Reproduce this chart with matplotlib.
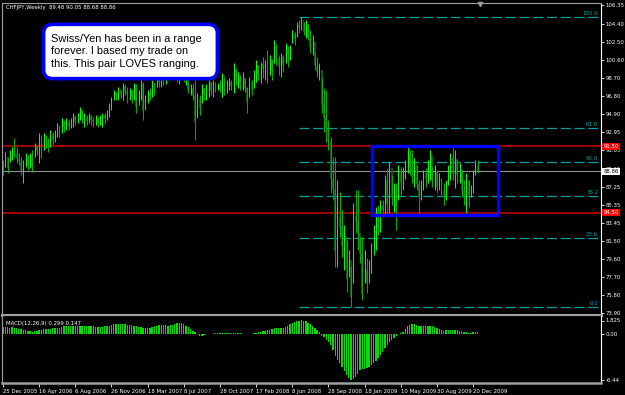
import matplotlib
matplotlib.use("Agg")
import matplotlib.pyplot as plt
from matplotlib.patches import Rectangle, FancyBboxPatch
from matplotlib import font_manager
import numpy as np

# ---------------- data ----------------
symbol_title = "CHFJPY,Weekly  89.48 90.05 88.68 88.86"
macd_title = "MACD(12,26,9) 0.299 0.147"
first_open = 89.3

highs = [90.05, 90.9, 90.4, 91.1, 91.4, 92.4, 91.4, 90.8, 90.4, 90.0,
         90.8, 90.6, 90.8, 91.1, 91.8, 91.6, 92.9, 92.7, 92.9, 92.7,
         92.4, 93.2, 93.0, 93.2, 93.9, 93.7, 94.5, 94.3, 94.5, 94.3,
         94.5, 95.0, 94.8, 95.0, 95.6, 95.3, 95.0, 94.8, 95.0, 94.8,
         94.6, 94.8, 94.6, 94.8, 95.0, 95.0, 95.3, 96.0, 96.7, 97.4,
         97.2, 97.7, 97.4, 98.1, 98.0, 97.7, 97.6, 97.4, 98.1, 98.0,
         97.4, 98.5, 98.3, 96.9, 97.4, 97.6, 98.5, 98.1, 99.2, 99.0,
         98.8, 99.0, 100.5, 100.8, 101.0, 100.6, 101.2, 101.0, 100.2, 100.8,
         101.0, 100.0, 98.1, 98.0, 98.1, 98.5, 97.1, 96.9, 98.0, 97.6,
         98.0, 98.5, 98.3, 98.5, 98.3, 98.1, 98.5, 99.2, 98.7, 98.5,
         98.7, 98.5, 100.2, 99.7, 99.3, 99.0, 99.3, 98.7, 97.7, 98.8,
         98.5, 99.5, 100.6, 100.0, 100.4, 100.9, 100.6, 101.6, 101.1, 100.6,
         102.7, 102.1, 101.1, 101.3, 101.1, 102.4, 101.9, 102.1, 103.7, 103.5,
         104.6, 104.8, 105.1, 104.6, 104.8, 104.3, 103.7, 103.2, 101.3, 100.9,
         100.2, 98.7, 97.6, 97.4, 94.3, 92.5, 90.4, 90.4, 87.9, 86.7,
         84.8, 83.2, 81.6, 80.6, 78.8, 85.5, 86.9, 86.9, 81.9, 81.9,
         80.6, 79.7, 79.5, 81.3, 83.2, 85.1, 85.3, 85.8, 85.8, 88.5,
         89.2, 89.8, 88.5, 87.6, 87.6, 89.5, 89.3, 89.3, 90.0, 91.4,
         91.1, 91.1, 90.3, 89.5, 87.9, 87.9, 89.0, 89.2, 90.0, 91.1,
         89.3, 89.5, 89.0, 88.7, 88.1, 87.6, 87.9, 89.5, 90.8, 91.4,
         91.1, 90.0, 89.7, 89.0, 87.9, 88.7, 87.9, 87.4, 89.0, 90.0,
         90.05]

lows = [88.47, 89.3, 88.7, 89.8, 90.0, 90.4, 89.7, 89.5, 88.5, 87.6,
        89.3, 89.0, 89.2, 88.8, 90.4, 90.6, 89.7, 90.3, 91.1, 91.3,
        90.9, 91.4, 91.6, 91.9, 92.5, 92.5, 92.9, 93.0, 93.2, 93.2,
        93.4, 93.5, 93.7, 93.9, 94.3, 93.9, 93.5, 93.7, 93.9, 93.7,
        93.5, 93.7, 93.5, 93.7, 93.5, 93.9, 94.3, 94.6, 95.3, 96.4,
        96.4, 96.4, 96.6, 96.4, 96.9, 96.0, 96.4, 96.0, 96.4, 95.0,
        95.8, 96.4, 94.3, 95.3, 96.0, 96.4, 96.7, 96.9, 97.7, 97.7,
        97.7, 97.9, 98.0, 99.0, 99.3, 98.8, 99.5, 98.2, 98.0, 98.6,
        98.2, 97.9, 97.1, 96.9, 96.4, 92.2, 94.5, 94.8, 96.0, 96.4,
        96.4, 96.7, 96.9, 96.7, 97.2, 97.4, 97.2, 96.7, 96.9, 97.1,
        97.4, 97.4, 97.1, 97.9, 97.6, 97.4, 97.4, 97.2, 95.0, 96.7,
        96.9, 97.6, 98.3, 98.5, 98.1, 98.7, 98.5, 98.1, 99.0, 98.5,
        100.2, 100.0, 99.0, 98.8, 99.3, 100.2, 99.8, 100.6, 102.4, 102.1,
        103.0, 103.4, 103.7, 103.2, 102.9, 102.7, 101.3, 101.1, 99.5, 98.8,
        98.5, 95.0, 93.0, 91.9, 91.1, 86.6, 85.8, 78.8, 78.8, 81.9,
        79.8, 78.5, 76.2, 77.7, 74.6, 77.1, 82.4, 80.6, 79.2, 75.3,
        77.1, 76.1, 77.1, 78.2, 80.1, 80.6, 82.2, 82.5, 84.0, 84.3,
        84.0, 84.5, 85.3, 84.6, 82.7, 85.8, 86.4, 86.9, 88.0, 88.7,
        88.5, 87.6, 87.2, 86.9, 84.0, 85.8, 86.9, 87.2, 87.6, 87.9,
        87.2, 86.9, 86.6, 86.9, 86.4, 85.3, 85.8, 87.4, 87.9, 87.9,
        87.1, 87.6, 87.6, 86.2, 85.3, 84.5, 85.1, 86.2, 86.6, 88.5,
        88.68]

closes = [89.0, 90.4, 89.2, 90.6, 91.0, 90.8, 90.2, 89.9, 88.9, 89.6,
          90.3, 89.5, 90.5, 89.4, 91.5, 91.0, 92.5, 91.2, 92.3, 92.0,
          91.5, 92.8, 92.2, 92.9, 93.6, 93.0, 94.1, 93.5, 94.0, 93.6,
          94.2, 94.6, 94.2, 94.8, 95.3, 94.4, 94.6, 94.1, 94.7, 94.3,
          94.1, 94.6, 93.9, 94.5, 94.8, 94.4, 95.1, 95.8, 96.3, 97.1,
          96.8, 97.5, 96.9, 97.8, 97.2, 97.0, 97.4, 96.6, 97.9, 95.6,
          97.0, 98.0, 95.2, 96.5, 97.1, 96.8, 98.1, 97.5, 98.8, 98.2,
          98.5, 98.1, 99.8, 100.2, 99.8, 100.3, 100.6, 99.2, 99.5, 100.2,
          98.6, 99.4, 97.4, 97.6, 96.8, 94.0, 96.5, 95.5, 97.6, 96.9,
          97.8, 98.2, 97.3, 98.0, 97.6, 97.9, 97.5, 98.9, 97.4, 98.1,
          98.3, 97.8, 99.4, 98.6, 98.9, 97.9, 98.7, 97.6, 96.1, 98.3,
          97.4, 99.1, 100.0, 99.0, 100.1, 99.6, 100.3, 99.5, 100.7, 99.4,
          102.2, 100.8, 99.8, 100.9, 100.0, 102.0, 101.2, 101.7, 103.3, 102.8,
          104.2, 104.0, 104.8, 103.5, 104.3, 103.0, 101.9, 102.5, 99.9, 99.3,
          99.5, 95.8, 94.5, 93.4, 92.0, 88.0, 87.0, 80.5, 84.0, 83.0,
          81.0, 82.0, 77.5, 79.5, 75.6, 84.2, 83.5, 82.4, 80.2, 76.0,
          78.5, 77.0, 78.6, 80.6, 82.0, 84.3, 83.0, 85.2, 84.7, 87.9,
          85.4, 89.2, 86.2, 86.9, 85.0, 89.0, 87.6, 88.7, 89.5, 90.9,
          89.4, 88.3, 89.6, 87.5, 86.2, 87.3, 88.7, 88.0, 89.6, 90.5,
          87.8, 88.9, 87.2, 88.2, 86.9, 86.4, 87.5, 89.0, 90.4, 88.6,
          90.2, 88.5, 89.0, 86.8, 86.0, 87.9, 86.4, 86.9, 88.6, 89.48,
          88.86]

macd_hist = [0.9, 0.95, 0.9, 0.85, 0.9, 0.8, 0.75, 0.7, 0.6, 0.5,
             0.45, 0.4, 0.35, 0.3, 0.35, 0.4, 0.5, 0.55, 0.6, 0.65,
             0.7, 0.7, 0.75, 0.75, 0.8, 0.85, 0.9, 1.0, 1.05, 1.1,
             1.1, 1.05, 1.0, 1.0, 1.05, 1.1, 1.1, 1.05, 1.0, 1.0,
             1.0, 0.95, 0.9, 0.9, 0.95, 1.0, 1.05, 1.1, 1.2, 1.35,
             1.4, 1.4, 1.35, 1.3, 1.3, 1.25, 1.2, 1.15, 1.1, 1.0,
             0.95, 0.9, 0.8, 0.75, 0.8, 0.85, 0.9, 1.0, 1.1, 1.15,
             1.2, 1.2, 1.15, 1.1, 1.15, 1.25, 1.35, 1.45, 1.5, 1.45,
             1.3, 1.1, 0.9, 0.6, 0.4, 0.2, -0.1, -0.25, -0.25, -0.2,
             -0.1, -0.05, 0.0, 0.05, 0.05, 0.05, 0.1, 0.1, 0.15, 0.15,
             0.1, 0.1, 0.05, 0.05, 0.05, 0.05, 0.0, -0.05, -0.1, -0.1,
             -0.05, 0.05, 0.1, 0.2, 0.3, 0.35, 0.4, 0.5, 0.55, 0.6,
             0.75, 0.8, 0.85, 0.8, 0.8, 0.9, 1.1, 1.3, 1.5, 1.65,
             1.75, 1.8, 1.85, 1.8, 1.7, 1.5, 1.3, 1.1, 0.8, 0.5,
             0.2, -0.3, -0.5, -0.8, -1.1, -1.6, -2.2, -3.0, -3.6, -4.1,
             -4.6, -5.2, -5.7, -6.1, -6.4, -6.2, -5.9, -5.5, -5.0, -4.9,
             -4.8, -4.7, -4.6, -4.3, -4.0, -3.7, -3.3, -2.9, -2.5, -2.0,
             -1.6, -1.2, -0.9, -0.6, -0.3, -0.1, 0.1, 0.3, 0.6, 1.0,
             1.25, 1.35, 1.35, 1.2, 1.05, 1.0, 1.0, 1.05, 1.05, 1.1,
             1.0, 0.9, 0.8, 0.65, 0.5, 0.4, 0.45, 0.5, 0.55, 0.5,
             0.5, 0.45, 0.4, 0.35, 0.3, 0.2, 0.15, 0.1, 0.25, 0.3,
             0.299]

date_labels = ["25 Dec 2005", "16 Apr 2006", "6 Aug 2006", "26 Nov 2006",
               "18 Mar 2007", "8 Jul 2007", "28 Oct 2007", "17 Feb 2008",
               "8 Jun 2008", "28 Sep 2008", "18 Jan 2009", "10 May 2009",
               "30 Aug 2009", "20 Dec 2009"]
weeks_between_labels = 16

price_ticks = [106.35, 104.40, 102.50, 100.60, 98.70, 96.80, 94.90, 92.95,
               91.05, 89.15, 87.25, 85.35, 83.45, 81.50, 79.60, 77.70, 75.80, 73.90]
macd_ticks = [1.825, 0.00, -6.44]
macd_tick_labels = ["1.825", "0.00", "-6.44"]

support_resistance = [91.50, 84.50]
current_price = 88.86

fib_high = 105.06
fib_low = 74.61
fib_levels = [100.0, 61.8, 50.0, 38.2, 23.6, 0.0]
fib_start_bar = 131

range_box_bars = (163.2, 219.0)
range_box_prices = (84.26, 91.55)

note_text = "Swiss/Yen has been in a range\nforever. I based my trade on\nthis. This pair LOVES ranging."

# ---------------- fonts ----------------
available = {f.name for f in font_manager.fontManager.ttflist}
small_family = "Liberation Sans Narrow" if "Liberation Sans Narrow" in available else "DejaVu Sans"
narrow = small_family != "DejaVu Sans"
SMALL = 5.0 if narrow else 3.9
plt.rcParams["font.family"] = [small_family, "DejaVu Sans"]

# ---------------- figure ----------------
W, H = 625, 395
fig = plt.figure(figsize=(W / 100, H / 100), dpi=100, facecolor="black")

px = 2.26  # pixels per weekly bar


def ax_rect(x0, y0, x1, y1):
    return [x0 / W, 1 - y1 / H, (x1 - x0) / W, (y1 - y0) / H]


n = len(closes)
idx = np.arange(n)
opens = np.array([first_open] + closes[:-1])
highs_a = np.array(highs)
lows_a = np.array(lows)
closes_a = np.array(closes)

# main price panel
ax = fig.add_axes(ax_rect(2, 3, 601, 315))
ax.set_facecolor("black")
x_left = -1 / px
x_right = (601 - 3) / px
ax.set_xlim(x_left, x_right)
p_top = 106.876 - 0.10519 * 3
p_bot = 106.876 - 0.10519 * 315
ax.set_ylim(p_bot, p_top)

up = closes_a >= opens
ax.vlines(idx, lows_a, highs_a, colors=np.where(up, "#00ff00", "#00b000"), linewidth=0.75, zorder=3)
body_lo = np.minimum(opens, closes_a)
body_h = np.abs(closes_a - opens)
ax.bar(idx[~up], body_h[~up], bottom=body_lo[~up], width=0.8, color="#006000",
       edgecolor="none", zorder=2)

# horizontal lines
for lvl in support_resistance:
    ax.axhline(lvl, color="#b00000", linewidth=1.3, zorder=1)
ax.axhline(current_price, color="#909090", linewidth=0.8, zorder=1)

# fibonacci
for f in fib_levels:
    price = fib_low + (fib_high - fib_low) * f / 100.0
    ax.plot([fib_start_bar, x_right], [price, price], color="#00a0a0", linewidth=0.9,
            dashes=(8, 3), zorder=1)
    ax.text(x_right - 1.3, price + 0.12, f"{f:.1f}", color="#00a0a0", fontsize=SMALL,
            ha="right", va="bottom", zorder=4)

# range box
ax.add_patch(Rectangle((range_box_bars[0], range_box_prices[0]),
                       range_box_bars[1] - range_box_bars[0],
                       range_box_prices[1] - range_box_prices[0],
                       fill=False, edgecolor="#0000ff", linewidth=2.4, zorder=5))

# top marker
ax.plot([211], [p_top - 0.15], marker="v", color="#a0a0a0", markersize=3, zorder=6, clip_on=False)

# axes styling
for s in ["top", "left", "bottom"]:
    ax.spines[s].set_color("#a0a0a0")
ax.spines["bottom"].set_linewidth(2.2)
ax.spines["right"].set_color("#ffffff")
ax.spines["right"].set_linewidth(0.8)
ax.set_xticks([])
ax.yaxis.tick_right()
ax.set_yticks(price_ticks)
ax.set_yticklabels([f"{t:.2f}" for t in price_ticks])
ax.tick_params(axis="y", colors="#ffffff", labelsize=SMALL, length=2.0, width=0.6, pad=1.2)

# price labels on axis
for lvl in support_resistance:
    ax.text(x_right + 1.0, lvl, f"{lvl:.2f}", color="white", fontsize=SMALL, ha="left", va="center",
            bbox=dict(boxstyle="square,pad=0.2", facecolor="#ff0000", edgecolor="none"),
            clip_on=False, zorder=7)
ax.text(x_right + 1.0, current_price, f"{current_price:.2f}", color="black", fontsize=SMALL,
        ha="left", va="center",
        bbox=dict(boxstyle="square,pad=0.2", facecolor="#ffffff", edgecolor="none"),
        clip_on=False, zorder=7)

ax.text(0.006, 0.993, symbol_title, transform=ax.transAxes, color="white", fontsize=SMALL,
        ha="left", va="top", zorder=8)

# note box
note_ax = fig.add_axes(ax_rect(40, 22, 221, 81))
note_ax.set_xlim(0, 1)
note_ax.set_ylim(0, 1)
note_ax.axis("off")
note_ax.add_patch(FancyBboxPatch((0.02, 0.04), 0.96, 0.92,
                                 boxstyle="round,pad=0,rounding_size=0.05",
                                 facecolor="white", edgecolor="#0000ff", linewidth=2.6,
                                 mutation_aspect=3.0))
note_ax.text(0.06, 0.5, note_text, fontsize=7.9, color="black", ha="left", va="center",
             linespacing=1.3, family=["Liberation Sans", "DejaVu Sans"])

# MACD panel
mx = fig.add_axes(ax_rect(2, 316, 601, 383))
mx.set_facecolor("black")
mx.set_xlim(x_left, x_right)
m_top = 1.825 - (316 - 320.5) * 0.1378
m_bot = 1.825 - (383 - 320.5) * 0.1378
mx.set_ylim(m_bot, m_top)
mx.bar(idx, macd_hist, width=0.6, color="#00e000", edgecolor="none")
for s in ["top", "left"]:
    mx.spines[s].set_color("#a0a0a0")
mx.spines["top"].set_linewidth(0.1)
mx.spines["bottom"].set_color("#a0a0a0")
mx.spines["bottom"].set_linewidth(1.8)
mx.spines["right"].set_color("#ffffff")
mx.spines["right"].set_linewidth(0.8)
mx.yaxis.tick_right()
mx.set_yticks(macd_ticks)
mx.set_yticklabels(macd_tick_labels)
mx.tick_params(axis="y", colors="#ffffff", labelsize=SMALL, length=2.0, width=0.6, pad=1.2)
xt = [k * weeks_between_labels for k in range(len(date_labels))]
mx.set_xticks(xt)
mx.set_xticklabels(date_labels)
for lab in mx.get_xticklabels():
    lab.set_horizontalalignment("left")
mx.tick_params(axis="x", colors="#ffffff", labelsize=SMALL, length=3, width=0.6, pad=1.5, direction="out")
mx.text(0.006, 0.93, macd_title, transform=mx.transAxes, color="white", fontsize=SMALL,
        ha="left", va="top")

fig.savefig("out.png", dpi=100, facecolor="black")
